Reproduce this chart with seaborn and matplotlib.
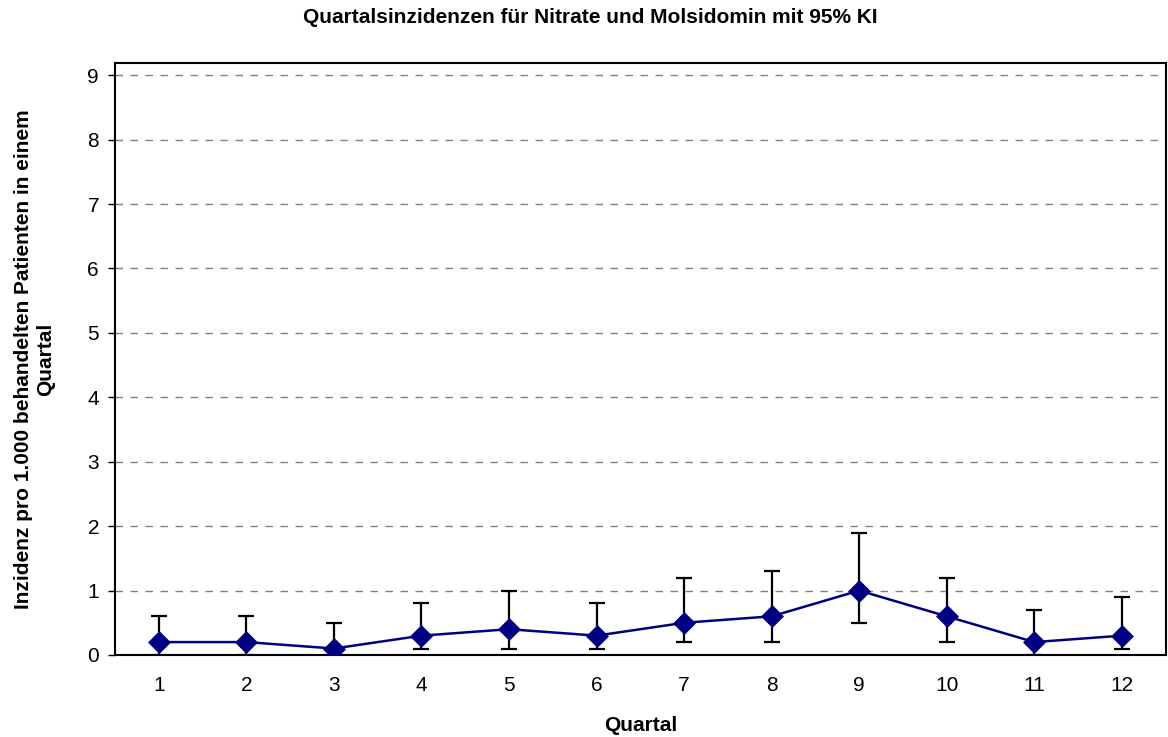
import matplotlib
matplotlib.use("Agg")
import matplotlib.pyplot as plt
import seaborn as sns
import numpy as np
import pandas as pd

quartal = [1, 2, 3, 4, 5, 6, 7, 8, 9, 10, 11, 12]
inzidenz = [0.2, 0.2, 0.1, 0.3, 0.4, 0.3, 0.5, 0.6, 1.0, 0.6, 0.2, 0.3]
ki_unten = [0.0, 0.0, 0.0, 0.1, 0.1, 0.1, 0.2, 0.2, 0.5, 0.2, 0.0, 0.1]
ki_oben = [0.6, 0.6, 0.5, 0.8, 1.0, 0.8, 1.2, 1.3, 1.9, 1.2, 0.7, 0.9]

sns.set_style("white")
plt.rcParams['font.family'] = ['Liberation Sans', 'DejaVu Sans']
plt.rcParams['text.color'] = 'black'
plt.rcParams['axes.labelcolor'] = 'black'
plt.rcParams['xtick.color'] = 'black'
plt.rcParams['ytick.color'] = 'black'

df = pd.DataFrame({"Quartal": quartal, "Inzidenz": inzidenz})

fig = plt.figure(figsize=(11.68, 7.37), dpi=100)
ax = fig.add_axes([0.0985, 0.1113, 0.8995, 0.8032])

for y in range(1, 10):
    ax.axhline(y, color="#808080", linestyle=(0, (5.4, 5.4)), linewidth=1.0, zorder=0)

yerr = [np.array(inzidenz) - np.array(ki_unten), np.array(ki_oben) - np.array(inzidenz)]
ax.errorbar(quartal, inzidenz, yerr=yerr, fmt="none", ecolor="black",
            elinewidth=1.6, capsize=5.7, capthick=1.6, zorder=2)
sns.lineplot(data=df, x="Quartal", y="Inzidenz", ax=ax, color="#000080",
             linewidth=1.8, marker="D", markersize=11, markeredgecolor="#000080",
             markeredgewidth=0.5, zorder=3)

ax.set_xlim(0.5, 12.5)
ax.set_ylim(0, 9.19)
ax.set_xticks(quartal)
ax.set_xticklabels([str(q) for q in quartal], fontsize=15)
ax.set_yticks(range(0, 10))
ax.set_yticklabels([str(v) for v in range(0, 10)], fontsize=15)
ax.tick_params(axis="y", direction="out", length=5, width=1, left=True, pad=6.5)
ax.tick_params(axis="x", length=0, pad=15)

for s in ax.spines.values():
    s.set_color("black")
    s.set_linewidth(1.5)

ax.set_xlabel("Quartal", fontsize=15, fontweight="bold", labelpad=15)
ax.set_ylabel("Inzidenz pro 1.000 behandelten Patienten in einem\nQuartal",
              fontsize=15, fontweight="bold")
ax.yaxis.set_label_coords(-0.057, 0.5)
fig.suptitle("Quartalsinzidenzen für Nitrate und Molsidomin mit 95% KI",
             fontsize=15, fontweight="bold", x=0.505, y=0.9756, va="center")

fig.savefig("out.png", dpi=100)
